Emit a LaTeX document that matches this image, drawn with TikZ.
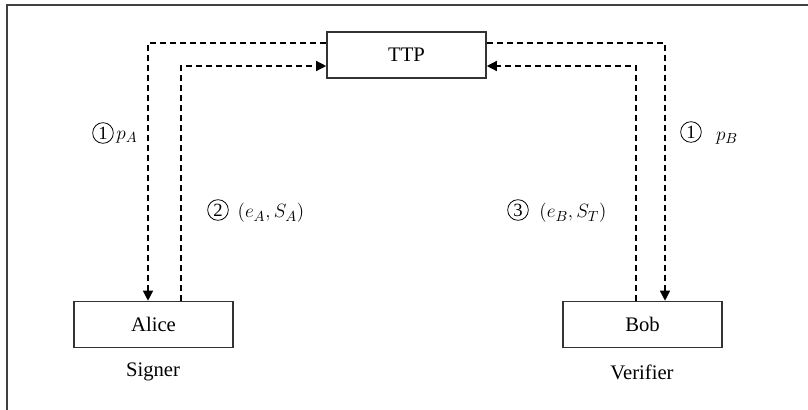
\documentclass[tikz,border=0pt]{standalone}
\usepackage{fontspec}
\setmainfont{Liberation Serif}
\usetikzlibrary{arrows.meta,calc}

\begin{document}
\begin{tikzpicture}[x=0.75pt,y=-0.75pt,
  every node/.style={font=\fontsize{15.5}{18}\selectfont},
  frameline/.style={draw=black!75,line width=1.5pt},
  party/.style={draw=black!80,line width=1.2pt,minimum width=119.25pt,minimum height=34.5pt,inner sep=0pt},
  flow/.style={line width=1pt,dash pattern=on 4.5pt off 3pt,-{Triangle[length=7.5pt,width=7.5pt]}},
  plain/.style={inner sep=0pt},
  stepnum/.style={circle,draw,line width=0.6pt,minimum size=15.5pt,inner sep=0pt,
    font=\fontsize{14}{14}\selectfont},
  mathlabel/.style={inner sep=0pt,font=\fontsize{15}{18}\selectfont}]
\useasboundingbox (0,0) rectangle (808,410);

% outer frame (top and left edges)
\draw[frameline] (7,410) -- (7,5) -- (808,5);

% parties
\node[party] (ttp)   at (406.5,55)  {TTP};
\node[party] (alice) at (153.5,324.5) {Alice};
\node[party] (bob)   at (642.5,324.5) {Bob};

% roles
\node[plain] (signer)   at (153,372) {Signer};
\node[plain] (verifier) at (642,372) {Verifier};

% message flows
\draw[flow] ($(ttp.west)+(0,-12)$) -| ($(alice.north)+(-5.5,0)$);
\draw[flow] ($(alice.north)+(27.5,0)$) |- ($(ttp.west)+(0,11)$);
\draw[flow] ($(ttp.east)+(0,-12)$) -| ($(bob.north)+(22.5,0)$);
\draw[flow] ($(bob.north)+(-6.5,0)$) |- ($(ttp.east)+(0,11)$);

% flow labels
\node[stepnum]   (n1a) at (103,133) {1};
\node[mathlabel] (pa)  at (127,137) {$p_A$};
\node[stepnum]   (n2)  at (218,210) {2};
\node[mathlabel] (ea)  at (271,213) {$(e_A,S_A)$};
\node[stepnum]   (n3)  at (518,210) {3};
\node[mathlabel] (eb)  at (573,213) {$(e_B,S_T)$};
\node[stepnum]   (n1b) at (691,132) {1};
\node[mathlabel] (pb)  at (727,138) {$p_B$};
\end{tikzpicture}
\end{document}
